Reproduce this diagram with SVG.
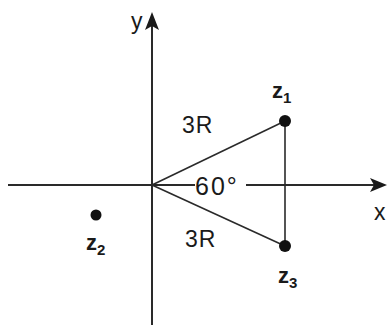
<svg xmlns="http://www.w3.org/2000/svg" width="388" height="329" viewBox="0 0 388 329">
<style>
.ax{stroke:#2a2a2a;stroke-width:2;fill:none}
.ln{stroke:#2a2a2a;stroke-width:1.6;fill:none}
.t{font-family:"Liberation Sans",Arial,sans-serif;fill:#1a1a1a}
.z{font-family:"Liberation Sans",Arial,sans-serif;fill:#1a1a1a;font-weight:bold;font-size:22px}
.s{font-size:15px}
.dot{fill:#111}
.head{fill:#1a1a1a}
</style>
<g id="connectors">
<line class="ax" x1="152" y1="325" x2="152" y2="20"/>
<line class="ax" x1="8" y1="185" x2="380" y2="185"/>
<path class="head" d="M387,185 L370,178 L374,185 L370,192 Z"/>
<path class="head" d="M152,12 L145,30 L152,26 L159,30 Z"/>
<line class="ln" x1="152" y1="185" x2="285" y2="121"/>
<line class="ln" x1="152" y1="185" x2="285" y2="246"/>
<line class="ln" x1="285" y1="121" x2="285" y2="246"/>
</g>
<rect x="195" y="172" width="51" height="26" fill="#fff"/>
<text class="t" x="195" y="195" font-size="25" letter-spacing="2">60°</text>
<g id="z1">
<circle class="dot" cx="285" cy="121" r="6"/>
<text class="z" x="272" y="98">z<tspan class="s" dy="5">1</tspan></text>
</g>
<g id="z2">
<circle class="dot" cx="96" cy="215" r="5.5"/>
<text class="z" x="86" y="250">z<tspan class="s" dy="5">2</tspan></text>
</g>
<g id="z3">
<circle class="dot" cx="285" cy="246" r="6"/>
<text class="z" x="278" y="283">z<tspan class="s" dy="5">3</tspan></text>
</g>
<g id="labels">
<text class="t" x="182" y="133" font-size="23" letter-spacing="1">3R</text>
<text class="t" x="185" y="247" font-size="23" letter-spacing="1">3R</text>
<text class="t" x="131" y="29" font-size="23">y</text>
<text class="t" x="374" y="220" font-size="23">x</text>
</g>
</svg>
